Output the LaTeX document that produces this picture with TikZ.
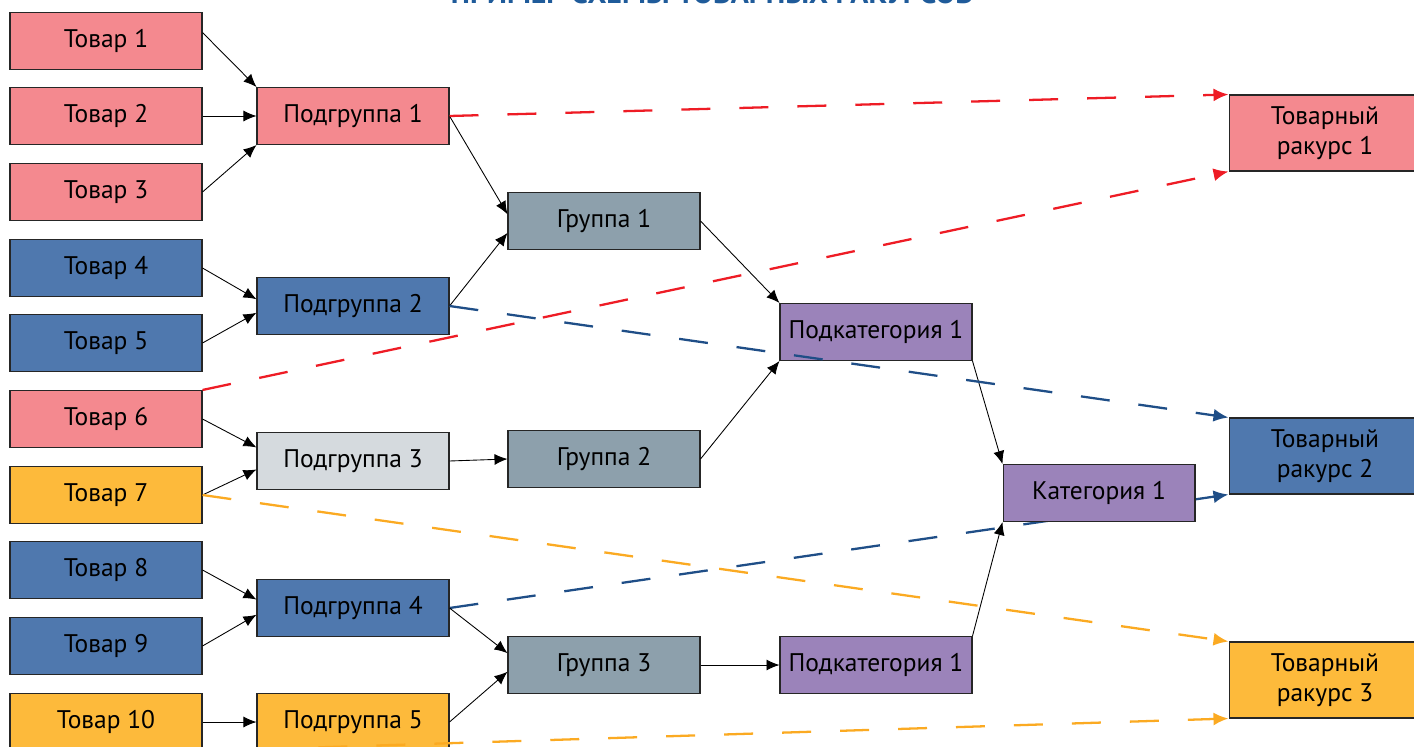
\documentclass[tikz,border=0pt]{standalone}
\usepackage{fontspec}
\setmainfont{PT Sans}
\usepackage{tikz}
\usetikzlibrary{arrows.meta,backgrounds}

\definecolor{tovpink}{HTML}{F4898F}
\definecolor{tovblue}{HTML}{4F78AE}
\definecolor{tovgrey}{HTML}{8DA0AC}
\definecolor{tovlight}{HTML}{D5DADE}
\definecolor{tovpurple}{HTML}{9B83BA}
\definecolor{tovyellow}{HTML}{FDBA3B}
\definecolor{dashred}{HTML}{EE1C25}
\definecolor{dashblue}{HTML}{1F4E87}
\definecolor{dashyellow}{HTML}{FBAA22}
\definecolor{titleblue}{HTML}{1F5B9A}

\begin{document}
\begin{tikzpicture}[x=0.02cm,y=-0.02cm]
\tikzset{box/.style = {draw=black!85,line width=0.6pt,minimum width=3.84cm,minimum height=1.14cm,inner sep=0pt,font=\fontsize{14.5}{17}\selectfont}}
\tikzset{edge/.style = {->,> = {Latex[length=2.6mm,width=2.2mm]},line width=0.5pt}}
\tikzset{link/.style = {->,> = {Latex[length=3mm,width=2.6mm]},line width=1.3pt,dash pattern=on 0.58cm off 0.58cm}}
\useasboundingbox (0,0) rectangle (1414,747);
% title
\node[font=\bfseries\fontsize{17}{20}\selectfont,text=titleblue,anchor=base] (title) at (712,3.5) {ПРИМЕР СХЕМЫ ТОВАРНЫХ РАКУРСОВ};
% goods
\node[box,fill=tovpink]   (t1)  at (106,41)  {Товар 1};
\node[box,fill=tovpink]   (t2)  at (106,116) {Товар 2};
\node[box,fill=tovpink]   (t3)  at (106,192) {Товар 3};
\node[box,fill=tovblue]   (t4)  at (106,268) {Товар 4};
\node[box,fill=tovblue]   (t5)  at (106,343) {Товар 5};
\node[box,fill=tovpink]   (t6)  at (106,419) {Товар 6};
\node[box,fill=tovyellow] (t7)  at (106,495) {Товар 7};
\node[box,fill=tovblue]   (t8)  at (106,570) {Товар 8};
\node[box,fill=tovblue]   (t9)  at (106,646) {Товар 9};
\node[box,fill=tovyellow] (t10) at (106,722) {Товар 10};
% subgroups
\node[box,fill=tovpink]   (pg1) at (353,116) {Подгруппа 1};
\node[box,fill=tovblue]   (pg2) at (353,306) {Подгруппа 2};
\node[box,fill=tovlight]  (pg3) at (353,461) {Подгруппа 3};
\node[box,fill=tovblue]   (pg4) at (353,608) {Подгруппа 4};
\node[box,fill=tovyellow] (pg5) at (353,722) {Подгруппа 5};
% groups
\node[box,fill=tovgrey] (g1) at (604,221) {Группа 1};
\node[box,fill=tovgrey] (g2) at (604,459) {Группа 2};
\node[box,fill=tovgrey] (g3) at (604,665) {Группа 3};
% subcategories and category
\node[box,fill=tovpurple] (pc1) at (876,332) {Подкатегория 1};
\node[box,fill=tovpurple] (pc2) at (876,665) {Подкатегория 1};
\node[box,fill=tovpurple] (k1)  at (1099,493) {Категория 1};
% views
\node[box,fill=tovpink,minimum height=1.52cm,align=center]   (tr1) at (1325,133) {Товарный\\ракурс 1};
\node[box,fill=tovblue,minimum height=1.52cm,align=center]   (tr2) at (1325,456) {Товарный\\ракурс 2};
\node[box,fill=tovyellow,minimum height=1.52cm,align=center] (tr3) at (1325,680) {Товарный\\ракурс 3};
%edges
\draw[edge] (t1.5) to (pg1.north west);
\draw[edge] (t2.east) to (pg1.west);
\draw[edge] (t3.east) to (pg1.south west);
\draw[edge] (t4.east) to (pg2.176);
\draw[edge] (t5.east) to (pg2.184);
\draw[edge] (t6.east) to (pg3.172);
\draw[edge] (t7.east) to (pg3.185);
\draw[edge] (t8.east) to (pg4.175);
\draw[edge] (t9.east) to (pg4.184);
\draw[edge] (t10.east) to (pg5.west);
\draw[edge] (pg1.east) to (g1.176);
\draw[edge] (pg2.east) to (g1.187);
\draw[edge] (pg3.east) to (g2.west);
\draw[edge] (pg4.east) to (g3.173);
\draw[edge] (pg5.east) to (g3.184);
\draw[edge] (g1.east) to (pc1.north west);
\draw[edge] (g2.east) to (pc1.south west);
\draw[edge] (g3.east) to (pc2.west);
\draw[edge] (pc1.south east) to (k1.north west);
\draw[edge] (pc2.north east) to (k1.south west);
%views
\draw[link,dashred] (pg1.east) to (tr1.north west);
\draw[link,dashred] (t6.north east) to (tr1.south west);
\draw[link,dashblue] (pg2.east) to (tr2.north west);
\begin{pgfonlayer}{background}
\draw[link,dashblue] (pg4.east) to (tr2.south west);
\end{pgfonlayer}
\draw[link,dashyellow] (t7.east) to (tr3.north west);
\draw[link,dashyellow] (t10.south east) to (tr3.south west);
\end{tikzpicture}
\end{document}
